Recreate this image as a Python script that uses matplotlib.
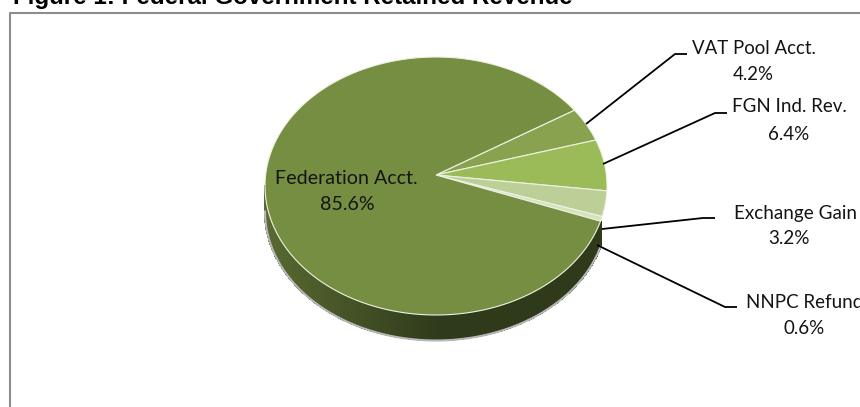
import matplotlib
matplotlib.use("Agg")
import matplotlib.pyplot as plt
import numpy as np

labels = ["Federation Acct.", "VAT Pool Acct.", "FGN Ind. Rev.", "Exchange Gain", "NNPC Refund"]
shares = [85.6, 4.2, 6.4, 3.2, 0.6]
colors = ["#768e42", "#88a24f", "#9bbb59", "#bbcf97", "#d5e2bd"]

W, H = 860, 407
fig = plt.figure(figsize=(W / 100, H / 100), dpi=100)
ax = fig.add_axes([0, 0, 1, 1])
ax.set_xlim(0, W)
ax.set_ylim(H, 0)
ax.axis("off")

# pie is a tilted ellipse, the apex sits above the ellipse centre (perspective)
cx, cy = 436, 186
rx, ry = 171, 129
apex = (436, 175)
depth = 25
start = 36


def rim(theta, drop=0):
    t = np.radians(theta)
    return cx + rx * np.cos(t), cy + drop - ry * np.sin(t)


# slices go clockwise from VAT, Federation comes last
order = [1, 2, 3, 4, 0]
sweep = np.array([shares[i] for i in order]) / sum(shares) * 360
edges = start - np.concatenate([[0], np.cumsum(sweep)])

# side wall, only under the front of the big slice; shade fades to the right
wall_left = np.array([0x58, 0x69, 0x31]) / 255
wall_dark = np.array([0x2f, 0x3a, 0x1b]) / 255
th = np.linspace(-180, edges[4], 120)
for a, b in zip(th[:-1], th[1:]):
    xa, ya = rim(a)
    xb, yb = rim(b)
    xa2, ya2 = rim(a, depth)
    xb2, yb2 = rim(b, depth)
    f = np.clip((xa - 268) / 170, 0, 1)
    ax.fill([xa, xb, xb2, xa2], [ya, yb, yb2, ya2], color=wall_left * (1 - f) + wall_dark * f,
            lw=1, antialiased=False, zorder=2)

# soft grey edge under the wall
th = np.linspace(-180, edges[4], 200)
x, y = rim(th, depth + 0.5)
ax.plot(x, y, color="#b8b8b8", lw=1.5, zorder=2.5)

# top face
for k, i in enumerate(order):
    th = np.linspace(edges[k], edges[k + 1], 300)
    x, y = rim(th)
    ax.fill(np.r_[apex[0], x], np.r_[apex[1], y], facecolor=colors[i],
            edgecolor="#eef2e2", lw=0.8, joinstyle="miter", zorder=3)

# chart frame runs off the right and bottom of the crop
ax.plot([870, 10, 10], [13, 13, 417], color="#8c8c8c", lw=1.5, clip_on=False, zorder=5)

ax.text(13, 4, "Figure 1: Federal Government Retained Revenue", fontsize=17.4,
        fontweight="bold", family="Liberation Sans", color="black", va="baseline")

leaders = [([586, 675, 687], [124, 54, 54]),
           ([603, 715, 727], [164, 113, 113]),
           ([602, 703, 715], [229, 218, 218]),
           ([597, 725, 737], [245, 307, 307])]
for xs, ys in leaders:
    ax.plot(xs, ys, color="black", lw=1.3, solid_capstyle="butt", zorder=6)

font = {"family": "Lato", "color": "#141414", "va": "center", "zorder": 7}
name_pos = [(346, 178), (754, 48), (789, 107), (796, 213), (805, 302)]
pct_pos = [(347, 204), (753, 75), (789, 134), (789, 239), (804, 328)]
sizes = [14.1, 13.4, 13.5, 13.6, 13.5]
for name, share, p, q, s in zip(labels, shares, name_pos, pct_pos, sizes):
    ax.text(p[0], p[1], name, ha="center", fontsize=s, **font)
    ax.text(q[0], q[1], "%.1f%%" % share, ha="center", fontsize=s, **font)

fig.savefig("out.png", dpi=100)
